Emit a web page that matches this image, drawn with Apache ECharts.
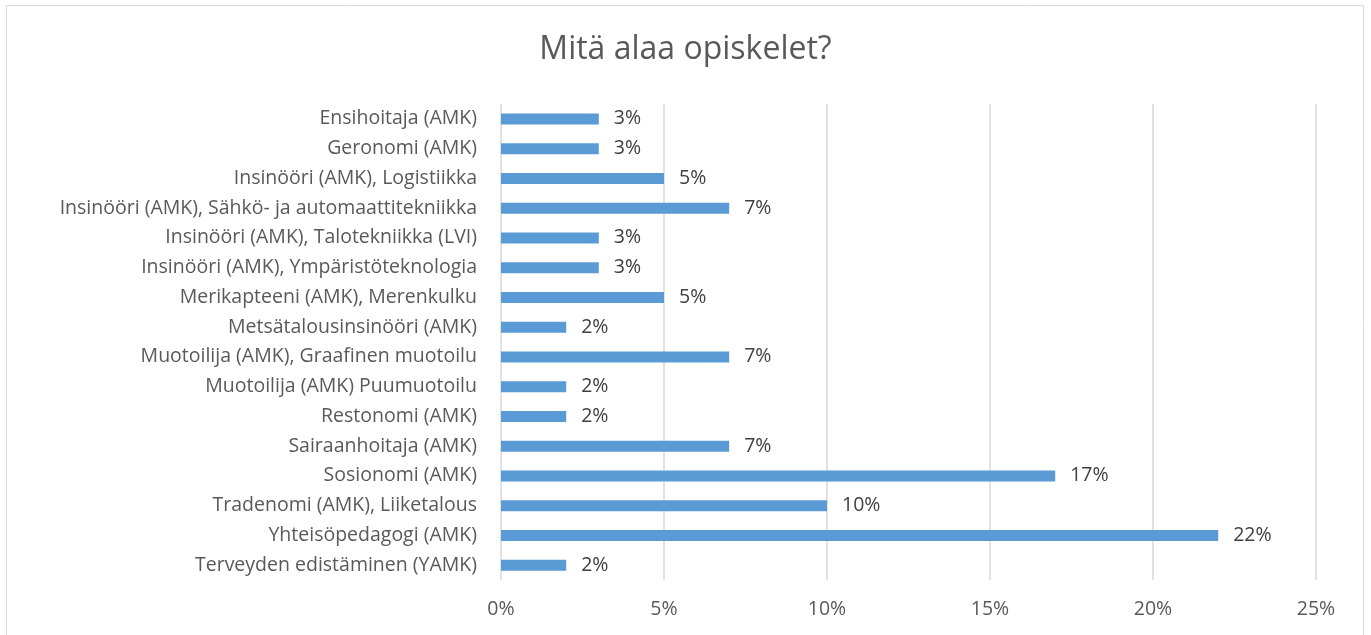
<!DOCTYPE html>
<html>
<head>
<meta charset="utf-8">
<script src="https://cdn.jsdelivr.net/npm/echarts@6/dist/echarts.min.js"></script>
<style>
  html, body { margin: 0; padding: 0; background: #fff; }
  #chart { width: 1371px; height: 635px; }
</style>
</head>
<body>
<div id="chart"></div>
<script>
// 分类（从上到下）
const categories = [
  'Ensihoitaja (AMK)',
  'Geronomi (AMK)',
  'Insinööri (AMK), Logistiikka',
  'Insinööri (AMK), Sähkö- ja automaattitekniikka',
  'Insinööri (AMK), Talotekniikka (LVI)',
  'Insinööri (AMK), Ympäristöteknologia',
  'Merikapteeni (AMK), Merenkulku',
  'Metsätalousinsinööri (AMK)',
  'Muotoilija (AMK), Graafinen muotoilu',
  'Muotoilija (AMK) Puumuotoilu',
  'Restonomi (AMK)',
  'Sairaanhoitaja (AMK)',
  'Sosionomi (AMK)',
  'Tradenomi (AMK), Liiketalous',
  'Yhteisöpedagogi (AMK)',
  'Terveyden edistäminen (YAMK)'
]

// 百分比数值
const values = [3, 3, 5, 7, 3, 3, 5, 2, 7, 2, 2, 7, 17, 10, 22, 2]

// 坐标轴刻度
const xTicks = [0, 5, 10, 15, 20, 25]

const FONT = '"Open Sans", sans-serif'

const chart = echarts.init(document.getElementById('chart'))

const option = {
  animation: false,
  title: {
    text: 'Mitä alaa opiskelet?',
    left: 'center',
    top: 29,
    textStyle: {
      fontFamily: FONT,
      fontSize: 32,
      fontWeight: 'normal',
      color: '#595959'
    }
  },
  graphic: [
    {
      type: 'rect',
      shape: { x: 6.5, y: 5.5, width: 1357, height: 700 },
      style: { fill: 'none', stroke: '#d9d9d9', lineWidth: 1 },
      silent: true
    }
  ],
  grid: {
    left: 501,
    right: 55,
    top: 104,
    bottom: 55
  },
  xAxis: {
    type: 'value',
    min: xTicks[0],
    max: xTicks[xTicks.length - 1],
    interval: 5,
    axisLine: { show: false },
    axisTick: { show: false },
    splitLine: { lineStyle: { color: '#d9d9d9', width: 1.5 } },
    axisLabel: {
      margin: 19,
      formatter: '{value}%',
      fontFamily: FONT,
      fontSize: 19.5,
      color: '#595959'
    }
  },
  yAxis: {
    type: 'category',
    inverse: true,
    data: categories,
    axisLine: { show: false },
    axisTick: { show: false },
    axisLabel: {
      margin: 24,
      fontFamily: FONT,
      fontSize: 19.5,
      color: '#595959'
    }
  },
  series: [
    {
      type: 'bar',
      data: values,
      barWidth: 11,
      itemStyle: { color: '#5b9bd5' },
      label: {
        show: true,
        position: 'right',
        distance: 15,
        formatter: '{c}%',
        fontFamily: FONT,
        fontSize: 19.5,
        color: '#404040'
      }
    }
  ]
}

chart.setOption(option)
</script>
</body>
</html>
